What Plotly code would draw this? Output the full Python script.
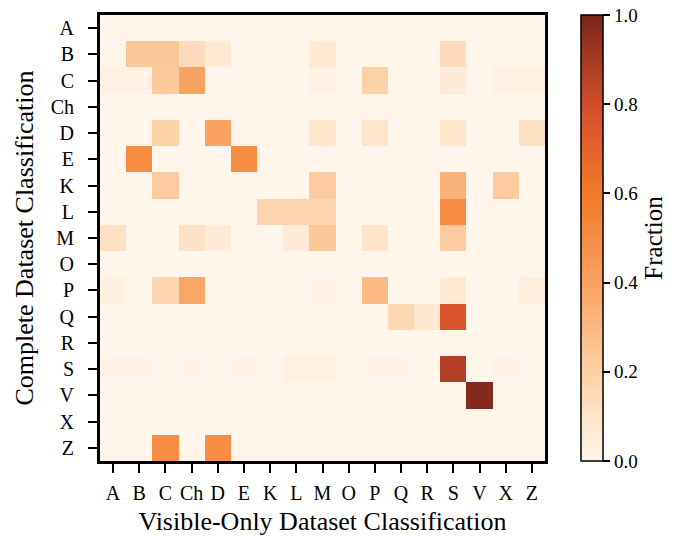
import plotly.graph_objects as go

# Spectral classes (same order on both axes)
classes = ["A", "B", "C", "Ch", "D", "E", "K", "L", "M", "O", "P", "Q", "R", "S", "V", "X", "Z"]

# Fraction of each complete-dataset class (row) assigned to each visible-only class (column)
row_A  = [0.00, 0.00, 0.00, 0.00, 0.00, 0.00, 0.00, 0.00, 0.00, 0.00, 0.00, 0.00, 0.00, 0.00, 0.00, 0.00, 0.00]
row_B  = [0.00, 0.24, 0.24, 0.14, 0.07, 0.00, 0.00, 0.00, 0.07, 0.00, 0.00, 0.00, 0.00, 0.14, 0.00, 0.00, 0.00]
row_C  = [0.02, 0.02, 0.23, 0.40, 0.00, 0.00, 0.00, 0.00, 0.02, 0.00, 0.20, 0.00, 0.00, 0.06, 0.00, 0.02, 0.03]
row_Ch = [0.00, 0.00, 0.00, 0.00, 0.00, 0.00, 0.00, 0.00, 0.00, 0.00, 0.00, 0.00, 0.00, 0.00, 0.00, 0.00, 0.00]
row_D  = [0.00, 0.00, 0.20, 0.00, 0.40, 0.00, 0.00, 0.00, 0.09, 0.00, 0.09, 0.00, 0.00, 0.09, 0.00, 0.00, 0.11]
row_E  = [0.00, 0.50, 0.00, 0.00, 0.00, 0.50, 0.00, 0.00, 0.00, 0.00, 0.00, 0.00, 0.00, 0.00, 0.00, 0.00, 0.00]
row_K  = [0.00, 0.00, 0.22, 0.00, 0.00, 0.00, 0.00, 0.00, 0.22, 0.00, 0.00, 0.00, 0.00, 0.33, 0.00, 0.22, 0.00]
row_L  = [0.00, 0.00, 0.00, 0.00, 0.00, 0.00, 0.17, 0.17, 0.17, 0.00, 0.00, 0.00, 0.00, 0.50, 0.00, 0.00, 0.00]
row_M  = [0.12, 0.00, 0.00, 0.11, 0.06, 0.00, 0.00, 0.06, 0.24, 0.00, 0.10, 0.00, 0.00, 0.22, 0.00, 0.00, 0.00]
row_O  = [0.00, 0.00, 0.00, 0.00, 0.00, 0.00, 0.00, 0.00, 0.00, 0.00, 0.00, 0.00, 0.00, 0.00, 0.00, 0.00, 0.00]
row_P  = [0.03, 0.00, 0.17, 0.38, 0.00, 0.00, 0.00, 0.00, 0.01, 0.00, 0.30, 0.00, 0.00, 0.07, 0.00, 0.00, 0.04]
row_Q  = [0.00, 0.00, 0.00, 0.00, 0.00, 0.00, 0.00, 0.00, 0.00, 0.00, 0.00, 0.16, 0.08, 0.76, 0.00, 0.00, 0.00]
row_R  = [0.00, 0.00, 0.00, 0.00, 0.00, 0.00, 0.00, 0.00, 0.00, 0.00, 0.00, 0.00, 0.00, 0.00, 0.00, 0.00, 0.00]
row_S  = [0.01, 0.01, 0.00, 0.01, 0.00, 0.01, 0.00, 0.03, 0.03, 0.00, 0.01, 0.01, 0.00, 0.87, 0.00, 0.01, 0.00]
row_V  = [0.00, 0.00, 0.00, 0.00, 0.00, 0.00, 0.00, 0.00, 0.00, 0.00, 0.00, 0.00, 0.00, 0.00, 0.98, 0.00, 0.00]
row_X  = [0.00, 0.00, 0.00, 0.00, 0.00, 0.00, 0.00, 0.00, 0.00, 0.00, 0.00, 0.00, 0.00, 0.00, 0.00, 0.00, 0.00]
row_Z  = [0.00, 0.00, 0.50, 0.00, 0.50, 0.00, 0.00, 0.00, 0.00, 0.00, 0.00, 0.00, 0.00, 0.00, 0.00, 0.00, 0.00]

rows = [row_A, row_B, row_C, row_Ch, row_D, row_E, row_K, row_L, row_M, row_O,
        row_P, row_Q, row_R, row_S, row_V, row_X, row_Z]

colorbar_ticks = [0.0, 0.2, 0.4, 0.6, 0.8, 1.0]

oranges = [
    [0.0, "#fff5eb"], [0.1, "#fee4c9"], [0.2, "#fdd0a5"], [0.3, "#fbb983"],
    [0.4, "#f9a262"], [0.5, "#f68d42"], [0.6, "#f07a28"], [0.7, "#e4622b"],
    [0.8, "#d04d2c"], [0.9, "#a63a22"], [1.0, "#7a2719"],
]

serif = "Liberation Serif, Times New Roman, serif"

fig = go.Figure(
    go.Heatmap(
        z=rows,
        x=classes,
        y=classes,
        zmin=0,
        zmax=1,
        colorscale=oranges,
        colorbar=dict(
            title=dict(text="Fraction", side="right", font=dict(family=serif, size=25, color="black")),
            tickvals=colorbar_ticks,
            ticktext=[f"{v:.1f}" for v in colorbar_ticks],
            tickfont=dict(family=serif, size=19, color="black"),
            ticks="outside",
            ticklen=7,
            tickwidth=2,
            tickcolor="black",
            thickness=22,
            thicknessmode="pixels",
            len=446,
            lenmode="pixels",
            x=1.058,
            xanchor="left",
            y=0.5,
            yanchor="middle",
            ypad=0,
            outlinewidth=1.5,
            outlinecolor="black",
        ),
        hovertemplate="%{y} → %{x}: %{z:.2f}<extra></extra>",
    )
)

axis_common = dict(
    showline=True,
    linewidth=3,
    linecolor="black",
    mirror=True,
    ticks="outside",
    ticklen=9,
    tickwidth=2,
    tickcolor="black",
    tickfont=dict(family=serif, size=20, color="black"),
    showgrid=False,
    zeroline=False,
    type="category",
    automargin=False,
)

fig.update_layout(
    width=691,
    height=536,
    margin=dict(l=100, r=146, t=15, b=75),
    paper_bgcolor="white",
    plot_bgcolor="white",
    font=dict(family=serif, color="black"),
    xaxis=dict(
        **axis_common,
        ticklabelstandoff=3,
        title=dict(text="Visible-Only Dataset Classification", font=dict(family=serif, size=26), standoff=11),
    ),
    yaxis=dict(
        **axis_common,
        ticklabelstandoff=10,
        autorange="reversed",
        title=dict(text="Complete Dataset Classification", font=dict(family=serif, size=26), standoff=10),
    ),
)

fig.write_html("out.html")
